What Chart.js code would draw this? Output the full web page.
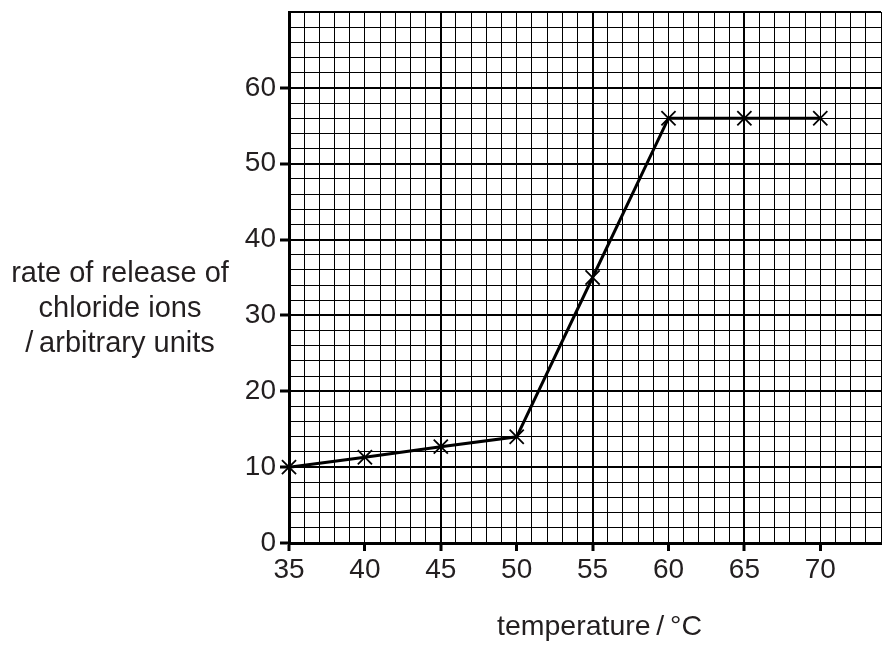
<!DOCTYPE html>
<html>
<head>
<meta charset="utf-8">
<script src="https://cdn.jsdelivr.net/npm/chart.js@4.4.1/dist/chart.umd.min.js"></script>
<style>
  html, body { margin: 0; padding: 0; background: #fff; overflow: hidden; }
  #wrap { width: 885px; height: 646px; }
  #wrap canvas { display: block; }
</style>
</head>
<body>
<div id="wrap"><canvas id="rateChart" width="885" height="646"></canvas></div>
<script>
// data
const temperatures = [35, 40, 45, 50, 55, 60, 65, 70];
const releaseRates = [10, 11.3, 12.7, 14, 35, 56, 56, 56];
const xTickLabels = [35, 40, 45, 50, 55, 60, 65, 70];
const yTickLabels = [0, 10, 20, 30, 40, 50, 60];
const yTitleLines = ['rate of release of', 'chloride ions', '/\u2009arbitrary units'];
const xTitle = 'temperature\u2009/\u2009°C';

const INK = '#231f20';
const FONT = '"Liberation Sans", Arial, sans-serif';

// axis titles sit outside the normal Chart.js title boxes
const axisTitles = {
    id: 'axisTitles',
    afterDraw(chart) {
        const ctx = chart.ctx;
        ctx.save();
        ctx.fillStyle = INK;
        ctx.font = '29px ' + FONT;
        ctx.textBaseline = 'alphabetic';
        ctx.textAlign = 'center';
        yTitleLines.forEach((line, i) => {
            ctx.fillText(line, 120, 282 + i * 35);
        });
        ctx.font = '28.5px ' + FONT;
        ctx.textAlign = 'left';
        ctx.fillText(xTitle, 497, 635);
        ctx.restore();
    }
};

const isMajor = (v, base) => Math.abs((v - base) % 10) < 1e-6;

// pin the scale boxes so the plot area lands where the original one is
function noPadding(scale) {
    scale.paddingTop = 0;
    scale.paddingBottom = 0;
    scale.paddingLeft = 0;
    scale.paddingRight = 0;
}

new Chart(document.getElementById('rateChart').getContext('2d'), {
    type: 'line',
    data: {
        datasets: [{
            data: temperatures.map((t, i) => ({ x: t, y: releaseRates[i] })),
            borderColor: '#000',
            borderWidth: 3,
            tension: 0,
            pointStyle: 'crossRot',
            pointRadius: 10,
            pointHoverRadius: 10,
            pointBorderColor: '#000',
            pointBorderWidth: 1.8,
            pointBackgroundColor: '#000',
            clip: false
        }]
    },
    options: {
        responsive: false,
        animation: false,
        devicePixelRatio: 1,
        layout: { autoPadding: false, padding: { left: 0, right: 4, top: 12, bottom: 0 } },
        plugins: {
            legend: { display: false },
            tooltip: { enabled: false }
        },
        scales: {
            x: {
                type: 'linear',
                min: 35,
                max: 74,
                afterFit: scale => { scale.height = 103; noPadding(scale); },
                border: { display: true, color: '#000', width: 3 },
                grid: {
                    color: '#000',
                    lineWidth: ctx => isMajor(ctx.tick.value, 35) ? 2 : 1,
                    tickLength: 8,
                    tickWidth: 3,
                    tickColor: ctx => xTickLabels.includes(ctx.tick.value) ? '#000' : 'rgba(0,0,0,0)'
                },
                ticks: {
                    stepSize: 1,
                    autoSkip: false,
                    maxTicksLimit: 100,
                    maxRotation: 0,
                    padding: 2,
                    color: INK,
                    font: { family: FONT, size: 28 },
                    callback: v => xTickLabels.includes(v) ? String(v) : ''
                }
            },
            y: {
                type: 'linear',
                min: 0,
                max: 70,
                afterFit: scale => { scale.width = 289; noPadding(scale); },
                border: { display: true, color: '#000', width: 3 },
                grid: {
                    color: '#000',
                    lineWidth: ctx => isMajor(ctx.tick.value, 0) ? 2 : 1,
                    tickLength: 9,
                    tickWidth: 3,
                    tickColor: ctx => yTickLabels.includes(ctx.tick.value) ? '#000' : 'rgba(0,0,0,0)'
                },
                ticks: {
                    stepSize: 2,
                    autoSkip: false,
                    maxTicksLimit: 100,
                    padding: 4,
                    color: INK,
                    font: { family: FONT, size: 28 },
                    callback: v => yTickLabels.includes(v) ? String(v) : ''
                }
            }
        }
    },
    plugins: [axisTitles]
});
</script>
</body>
</html>
